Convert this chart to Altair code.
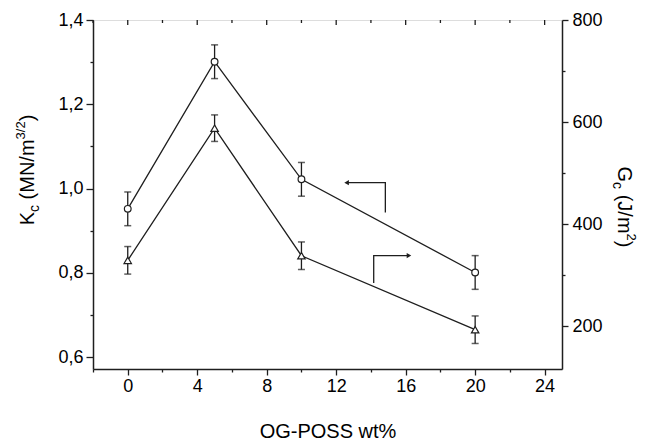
import altair as alt
import pandas as pd

# ---------------- data ----------------
wt = [0, 5, 10, 20]
kc = [0.952, 1.301, 1.022, 0.801]
kc_err = [0.04, 0.04, 0.04, 0.04]
gc = [329, 588, 338, 193]
gc_err = [27, 26, 27, 27]

x_major = [0, 4, 8, 12, 16, 20, 24]
x_minor = [-2, 2, 6, 10, 14, 18, 22]
kc_major = [0.6, 0.8, 1.0, 1.2, 1.4]
kc_minor = [0.7, 0.9, 1.1, 1.3]
gc_major = [200, 400, 600, 800]
gc_minor = [300, 500, 700]

# annotation arrows (data coordinates on the left axis)
arrow_id = ["a", "a", "a", "b", "b", "b"]
arrow_x = [12.6, 14.83, 14.83, 14.16, 14.16, 16.19]
arrow_y = [1.014, 1.014, 0.943, 0.776, 0.841, 0.841]
tip_x = [12.6, 16.19]
tip_y = [1.014, 0.841]
tip_shape = ["triangle-left", "triangle-right"]

# ---------------- styling ----------------
FONT = "Liberation Sans"
C = "#1e1e1e"
W, H = 469, 349
PAD_L, PAD_T = 85, 12
LW = 1.3

df = pd.DataFrame({
    "wt": wt,
    "kc": kc,
    "klo": [v - e for v, e in zip(kc, kc_err)],
    "khi": [v + e for v, e in zip(kc, kc_err)],
    "gc": gc,
    "glo": [v - e for v, e in zip(gc, gc_err)],
    "ghi": [v + e for v, e in zip(gc, gc_err)],
})
arrows = pd.DataFrame({"id": arrow_id, "x": arrow_x, "y": arrow_y, "o": list(range(len(arrow_x)))})
tips = pd.DataFrame({"x": tip_x, "y": tip_y, "shape": tip_shape})
top_ticks = pd.DataFrame({"v": sorted(x_major + x_minor)})
top_ticks["major"] = [v in x_major for v in top_ticks["v"]]

xscale = alt.Scale(domain=[-2, 25], nice=False, zero=False)
kscale = alt.Scale(domain=[0.572, 1.4], nice=False, zero=False)
gscale = alt.Scale(domain=[116, 800], nice=False, zero=False)

common_axis = dict(
    labelFont=FONT, labelFontSize=18, labelColor="black",
    domainColor=C, domainWidth=1.5, tickColor=C, tickWidth=1.3,
    grid=False, titleFont=FONT, titleFontWeight="normal", titleColor="black",
)

xaxis = alt.Axis(
    values=sorted(x_major + x_minor),
    labelExpr="datum.value % 4 === 0 ? datum.label : ''",
    tickSize={"condition": {"test": "datum.value % 4 !== 0", "value": 3}, "value": 6},
    labelPadding=2, labelFlush=False, labelOverlap=False,
    title="OG-POSS wt%", titleFontSize=20, titlePadding=26,
    **common_axis,
)
kaxis = alt.Axis(
    orient="left",
    values=sorted(kc_major + kc_minor),
    labelExpr="round(datum.value * 10) % 2 === 0 ? replace(format(datum.value, '.1f'), '.', ',') : ''",
    tickSize={"condition": {"test": "round(datum.value * 10) % 2 !== 0", "value": 3}, "value": 7},
    labelPadding=3, labelFlush=False, labelOverlap=False, title=None,
    **common_axis,
)
gaxis = alt.Axis(
    orient="right",
    values=sorted(gc_major + gc_minor),
    labelExpr="datum.value % 200 === 0 ? datum.label : ''",
    tickSize={"condition": {"test": "datum.value % 200 !== 0", "value": 3}, "value": 6},
    labelPadding=4, labelFlush=False, labelOverlap=False, title=None,
    **common_axis,
)

X = alt.X("wt:Q", scale=xscale, axis=xaxis)

# ---------------- left (Kc) layer ----------------
k_err = alt.Chart(df).mark_rule(color=C, strokeWidth=LW).encode(
    x=X, y=alt.Y("klo:Q", scale=kscale, axis=kaxis), y2="khi:Q")
k_cap_lo = alt.Chart(df).mark_tick(color=C, orient="horizontal", size=7, thickness=1.5).encode(
    x=X, y=alt.Y("klo:Q", scale=kscale, axis=kaxis))
k_cap_hi = alt.Chart(df).mark_tick(color=C, orient="horizontal", size=7, thickness=1.5).encode(
    x=X, y=alt.Y("khi:Q", scale=kscale, axis=kaxis))
k_line = alt.Chart(df).mark_line(color=C, strokeWidth=LW).encode(
    x=X, y=alt.Y("kc:Q", scale=kscale, axis=kaxis))
k_pts = alt.Chart(df).mark_point(shape="circle", size=45, fill="white", fillOpacity=1,
                                 stroke=C, strokeWidth=1.2, opacity=1).encode(
    x=X, y=alt.Y("kc:Q", scale=kscale, axis=kaxis))
arr_lines = alt.Chart(arrows).mark_line(color=C, strokeWidth=LW).encode(
    x=alt.X("x:Q", scale=xscale, axis=xaxis),
    y=alt.Y("y:Q", scale=kscale, axis=kaxis),
    detail="id:N", order="o:Q")
arr_tips = alt.Chart(tips).mark_point(filled=True, size=28, color=C, opacity=1).encode(
    x=alt.X("x:Q", scale=xscale, axis=xaxis),
    y=alt.Y("y:Q", scale=kscale, axis=kaxis),
    shape=alt.Shape("shape:N", scale=None))
top_major = alt.Chart(top_ticks[top_ticks["major"]]).mark_rule(color=C, strokeWidth=1.3).encode(
    x=alt.X("v:Q", scale=xscale, axis=xaxis), y=alt.value(0), y2=alt.value(5))
top_minor = alt.Chart(top_ticks[~top_ticks["major"]]).mark_rule(color=C, strokeWidth=1.3).encode(
    x=alt.X("v:Q", scale=xscale, axis=xaxis), y=alt.value(0), y2=alt.value(3))

left = alt.layer(top_major, top_minor, k_err, k_cap_lo, k_cap_hi, k_line, k_pts, arr_lines, arr_tips)

# ---------------- right (Gc) layer ----------------
g_err = alt.Chart(df).mark_rule(color=C, strokeWidth=LW).encode(
    x=X, y=alt.Y("glo:Q", scale=gscale, axis=gaxis), y2="ghi:Q")
g_cap_lo = alt.Chart(df).mark_tick(color=C, orient="horizontal", size=7, thickness=1.5).encode(
    x=X, y=alt.Y("glo:Q", scale=gscale, axis=gaxis))
g_cap_hi = alt.Chart(df).mark_tick(color=C, orient="horizontal", size=7, thickness=1.5).encode(
    x=X, y=alt.Y("ghi:Q", scale=gscale, axis=gaxis))
g_line = alt.Chart(df).mark_line(color=C, strokeWidth=LW).encode(
    x=X, y=alt.Y("gc:Q", scale=gscale, axis=gaxis))
g_pts = alt.Chart(df).mark_point(shape="triangle-up", size=55, fill="white", fillOpacity=1,
                                 stroke=C, strokeWidth=1.2, opacity=1).encode(
    x=X, y=alt.Y("gc:Q", scale=gscale, axis=gaxis))

right = alt.layer(g_err, g_cap_lo, g_cap_hi, g_line, g_pts)

# ---------------- rich-text axis titles ----------------
CW = {"K": .667, "c": .5, " ": .278, "(": .333, "M": .833, "N": .722, "/": .278,
      "m": .833, "3": .556, "2": .556, ")": .333, "G": .778, "J": .5}


def text_len(s, fs):
    return sum(CW.get(ch, .556) for ch in s) * fs


def rich_vertical(pieces, base_x, center_y, angle):
    """pieces: (text, fontsize, shift) ; shift>0 raises the text (superscript)."""
    total = sum(text_len(t, fs) for t, fs, _ in pieces)
    sign = -1 if angle == 270 else 1
    pos = center_y - sign * total / 2
    layers = []
    one = pd.DataFrame({"d": [0]})
    for t, fs, sh in pieces:
        lead = len(t) - len(t.lstrip(" "))
        pos += sign * lead * CW[" "] * fs
        body = t.lstrip(" ")
        px = base_x - sh if angle == 270 else base_x + sh
        layers.append(
            alt.Chart(one).mark_text(angle=angle, align="left", baseline="alphabetic",
                                     font=FONT, fontSize=fs, color="black").encode(
                x=alt.value(px - PAD_L - 8), y=alt.value(pos - PAD_T - 8), text=alt.value(body)))
        pos += sign * text_len(body, fs)
    return layers


left_title = rich_vertical(
    [("K", 20, 0), ("c", 14, -5), (" (MN/m", 20, 0), ("3/2", 13, 9), (")", 20, 0)],
    base_x=34, center_y=170, angle=270)
right_title = rich_vertical(
    [("G", 20, 0), ("c", 14, -5), (" (J/m", 20, 0), ("2", 13, 9), (")", 20, 0)],
    base_x=618, center_y=207, angle=90)

chart = alt.layer(left, right, *left_title, *right_title).resolve_scale(
    y="independent"
).properties(
    width=W, height=H,
    autosize=alt.AutoSizeParams(type="none"),
    padding={"left": PAD_L, "top": PAD_T, "right": 646 - 16 - PAD_L - W, "bottom": 90},
).configure_view(
    stroke=C, strokeWidth=1.5
).configure(background="white")

chart.save("out.html", embed_options={"renderer": "svg", "actions": False})
